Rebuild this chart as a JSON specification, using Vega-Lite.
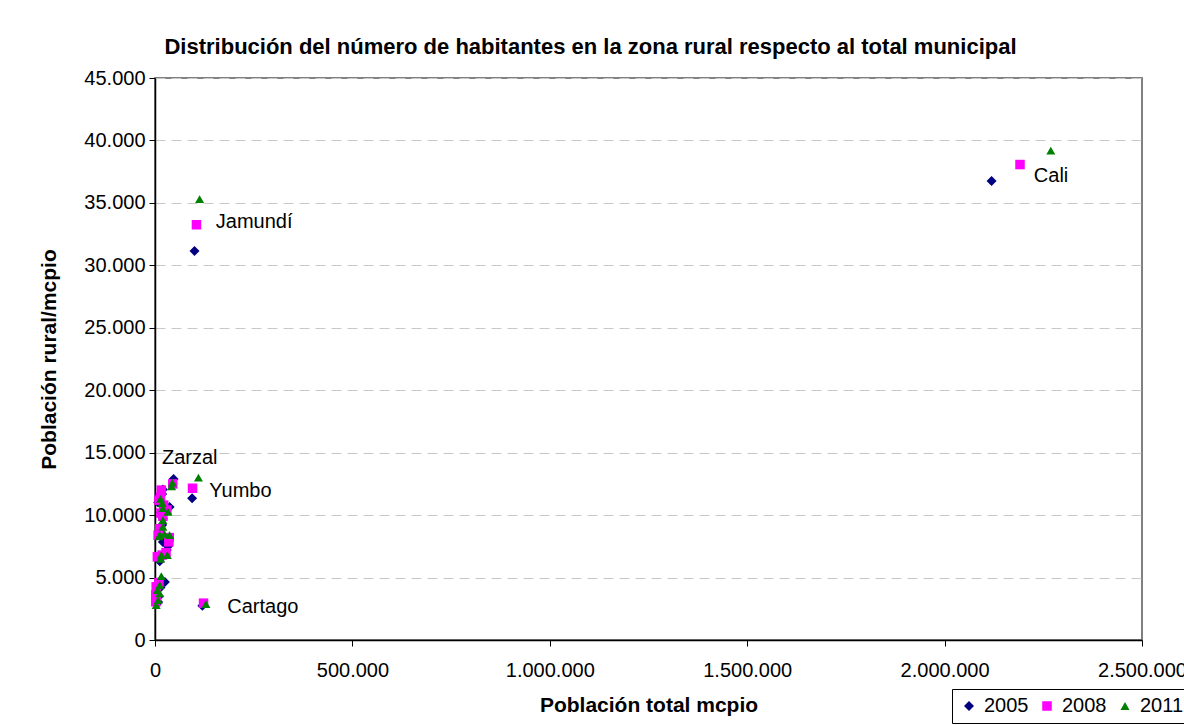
{
  "$schema": "https://vega.github.io/schema/vega-lite/v6.json",
  "autosize": "none",
  "width": 987,
  "height": 562,
  "padding": {"left": 155, "top": 78, "right": 42, "bottom": 85},
  "background": "white",
  "config": {
    "locale": {"number": {"decimal": ",", "thousands": ".", "grouping": [3], "currency": ["$", ""]}},
    "font": "Liberation Sans",
    "view": {"stroke": "#808080", "strokeWidth": 2}
  },
  "title": {
    "text": "Distribución del número de habitantes en la zona rural respecto al total municipal",
    "font": "Liberation Sans",
    "fontSize": 22,
    "fontWeight": "bold",
    "color": "black",
    "anchor": "middle",
    "dx": -58,
    "offset": 9
  },
  "datasets": {
    "pts": [
      {"anio": "2005", "mun": "Cali", "total": 2119000, "rural": 36750},
      {"anio": "2005", "mun": "Jamundí", "total": 100000, "rural": 31150},
      {"anio": "2005", "mun": "Yumbo", "total": 94000, "rural": 11350},
      {"anio": "2005", "mun": "Cartago", "total": 120000, "rural": 2750},
      {"anio": "2005", "mun": "Zarzal", "total": 20000, "rural": 12050},
      {"anio": "2005", "mun": "m1", "total": 47000, "rural": 12900},
      {"anio": "2005", "mun": "m2", "total": 18000, "rural": 11700},
      {"anio": "2005", "mun": "m3", "total": 37000, "rural": 10650},
      {"anio": "2005", "mun": "m4", "total": 15000, "rural": 10200},
      {"anio": "2005", "mun": "m5", "total": 20000, "rural": 9700},
      {"anio": "2005", "mun": "m6", "total": 12000, "rural": 8500},
      {"anio": "2005", "mun": "m7", "total": 20000, "rural": 7850},
      {"anio": "2005", "mun": "m8", "total": 33000, "rural": 7500},
      {"anio": "2005", "mun": "m9", "total": 30000, "rural": 7200},
      {"anio": "2005", "mun": "m10", "total": 12000, "rural": 6300},
      {"anio": "2005", "mun": "m11", "total": 16000, "rural": 6600},
      {"anio": "2005", "mun": "m12", "total": 25000, "rural": 4650},
      {"anio": "2005", "mun": "m13", "total": 14000, "rural": 4200},
      {"anio": "2005", "mun": "m14", "total": 8000, "rural": 3050},
      {"anio": "2005", "mun": "m15", "total": 10000, "rural": 3500},
      {"anio": "2005", "mun": "m16", "total": 5000, "rural": 2900},
      {"anio": "2005", "mun": "m17", "total": 36000, "rural": 8200},
      {"anio": "2005", "mun": "m18", "total": 25000, "rural": 10500},
      {"anio": "2005", "mun": "m19", "total": 8000, "rural": 11000},
      {"anio": "2005", "mun": "m20", "total": 18000, "rural": 9200},
      {"anio": "2008", "mun": "Cali", "total": 2191000, "rural": 38070},
      {"anio": "2008", "mun": "Jamundí", "total": 105000, "rural": 33250},
      {"anio": "2008", "mun": "Yumbo", "total": 95000, "rural": 12150},
      {"anio": "2008", "mun": "Cartago", "total": 123000, "rural": 2950},
      {"anio": "2008", "mun": "m1", "total": 45000, "rural": 12500},
      {"anio": "2008", "mun": "m2", "total": 14000, "rural": 11460},
      {"anio": "2008", "mun": "m3", "total": 10000, "rural": 11200},
      {"anio": "2008", "mun": "m4", "total": 15000, "rural": 10160},
      {"anio": "2008", "mun": "m5", "total": 35000, "rural": 7860},
      {"anio": "2008", "mun": "m6", "total": 8000, "rural": 8400},
      {"anio": "2008", "mun": "m7", "total": 6000, "rural": 6660},
      {"anio": "2008", "mun": "m8", "total": 3000, "rural": 4260},
      {"anio": "2008", "mun": "m9", "total": 2000, "rural": 3600},
      {"anio": "2008", "mun": "m10", "total": 2000, "rural": 3060},
      {"anio": "2008", "mun": "m11", "total": 20000, "rural": 9900},
      {"anio": "2008", "mun": "m12", "total": 30000, "rural": 10400},
      {"anio": "2008", "mun": "m13", "total": 12000, "rural": 8900},
      {"anio": "2008", "mun": "m14", "total": 16000, "rural": 12000},
      {"anio": "2008", "mun": "m15", "total": 36000, "rural": 8200},
      {"anio": "2008", "mun": "m16", "total": 28000, "rural": 7000},
      {"anio": "2008", "mun": "m17", "total": 4000, "rural": 3300},
      {"anio": "2008", "mun": "m18", "total": 10000, "rural": 4600},
      {"anio": "2008", "mun": "m19", "total": 18000, "rural": 6800},
      {"anio": "2008", "mun": "m20", "total": 22000, "rural": 10800},
      {"anio": "2011", "mun": "Cali", "total": 2269000, "rural": 39190},
      {"anio": "2011", "mun": "Jamundí", "total": 113000, "rural": 35300},
      {"anio": "2011", "mun": "Yumbo", "total": 110000, "rural": 13000},
      {"anio": "2011", "mun": "Cartago", "total": 129000, "rural": 2880},
      {"anio": "2011", "mun": "m1", "total": 44000, "rural": 12600},
      {"anio": "2011", "mun": "m2", "total": 42000, "rural": 12300},
      {"anio": "2011", "mun": "m3", "total": 18000, "rural": 10960},
      {"anio": "2011", "mun": "m4", "total": 20000, "rural": 10560},
      {"anio": "2011", "mun": "m5", "total": 33000, "rural": 10260},
      {"anio": "2011", "mun": "m6", "total": 20000, "rural": 9600},
      {"anio": "2011", "mun": "m7", "total": 20000, "rural": 9060},
      {"anio": "2011", "mun": "m8", "total": 12000, "rural": 8400},
      {"anio": "2011", "mun": "m9", "total": 37000, "rural": 8400},
      {"anio": "2011", "mun": "m10", "total": 16000, "rural": 6800},
      {"anio": "2011", "mun": "m11", "total": 31000, "rural": 6800},
      {"anio": "2011", "mun": "m12", "total": 16000, "rural": 5120},
      {"anio": "2011", "mun": "m13", "total": 12000, "rural": 4400},
      {"anio": "2011", "mun": "m14", "total": 12000, "rural": 3730},
      {"anio": "2011", "mun": "m15", "total": 8000, "rural": 3200},
      {"anio": "2011", "mun": "m16", "total": 3000, "rural": 2800},
      {"anio": "2011", "mun": "m17", "total": 14000, "rural": 11300},
      {"anio": "2011", "mun": "m18", "total": 10000, "rural": 8300},
      {"anio": "2011", "mun": "m19", "total": 24000, "rural": 8500},
      {"anio": "2011", "mun": "m20", "total": 14000, "rural": 6500},
      {"anio": "2011", "mun": "m21", "total": 6000, "rural": 4000}
    ],
    "labels": [
      {"name": "Cali", "total": 2226000, "rural": 37120},
      {"name": "Jamundí", "total": 154000, "rural": 33440},
      {"name": "Zarzal", "total": 17700, "rural": 14560},
      {"name": "Yumbo", "total": 137600, "rural": 11940},
      {"name": "Cartago", "total": 183000, "rural": 2670}
    ]
  },
  "layer": [
    {
      "data": {"name": "pts"},
      "mark": {"type": "point", "filled": true, "opacity": 1},
      "encoding": {
        "x": {
          "field": "total", "type": "quantitative",
          "scale": {"domain": [0, 2500000], "nice": false},
          "axis": {
            "title": "Población total mcpio",
            "values": [0, 500000, 1000000, 1500000, 2000000, 2500000],
            "format": ",.0f",
            "grid": false,
            "domainColor": "black", "domainWidth": 1.5,
            "tickColor": "black", "tickSize": 6,
            "labelFont": "Liberation Sans", "labelFontSize": 20, "labelColor": "black",
            "labelPadding": 14, "labelFlush": false, "labelOverlap": false,
            "titleFont": "Liberation Sans", "titleFontSize": 21, "titleFontWeight": "bold", "titleColor": "black",
            "titlePadding": 14
          }
        },
        "y": {
          "field": "rural", "type": "quantitative",
          "scale": {"domain": [0, 45000], "nice": false},
          "axis": {
            "title": "Población rural/mcpio",
            "values": [0, 5000, 10000, 15000, 20000, 25000, 30000, 35000, 40000, 45000],
            "format": ",.0f",
            "grid": true, "gridColor": "#c8c8c8", "gridDash": [10, 6], "gridWidth": 1,
            "domainColor": "black", "domainWidth": 1.5,
            "tickColor": "black", "tickSize": 6,
            "labelFont": "Liberation Sans", "labelFontSize": 20, "labelColor": "black",
            "labelPadding": 4, "labelFlush": false, "labelOverlap": false,
            "titleFont": "Liberation Sans", "titleFontSize": 21, "titleFontWeight": "bold", "titleColor": "black",
            "titlePadding": 24
          }
        },
        "color": {
          "field": "anio", "type": "nominal",
          "scale": {"domain": ["2005", "2008", "2011"], "range": ["#000080", "#FF00FF", "#008000"]},
          "legend": {
            "title": null,
            "orient": "none",
            "legendX": 797,
            "legendY": 611,
            "direction": "horizontal",
            "strokeColor": "black",
            "fillColor": "white",
            "padding": 7,
            "symbolSize": 45,
            "labelFont": "Liberation Sans",
            "labelFontSize": 20,
            "labelColor": "black",
            "columnPadding": 8,
            "labelOffset": 5
          }
        },
        "shape": {
          "field": "anio", "type": "nominal",
          "scale": {"domain": ["2005", "2008", "2011"], "range": ["diamond", "square", "triangle-up"]},
          "legend": null
        },
        "size": {
          "field": "anio", "type": "nominal",
          "scale": {"domain": ["2005", "2008", "2011"], "range": [100, 81, 120]},
          "legend": null
        }
      }
    },
    {
      "data": {"name": "labels"},
      "mark": {"type": "text", "align": "left", "baseline": "middle", "font": "Liberation Sans", "fontSize": 20, "color": "black"},
      "encoding": {
        "x": {"field": "total", "type": "quantitative"},
        "y": {"field": "rural", "type": "quantitative"},
        "text": {"field": "name", "type": "nominal"}
      }
    }
  ]
}
